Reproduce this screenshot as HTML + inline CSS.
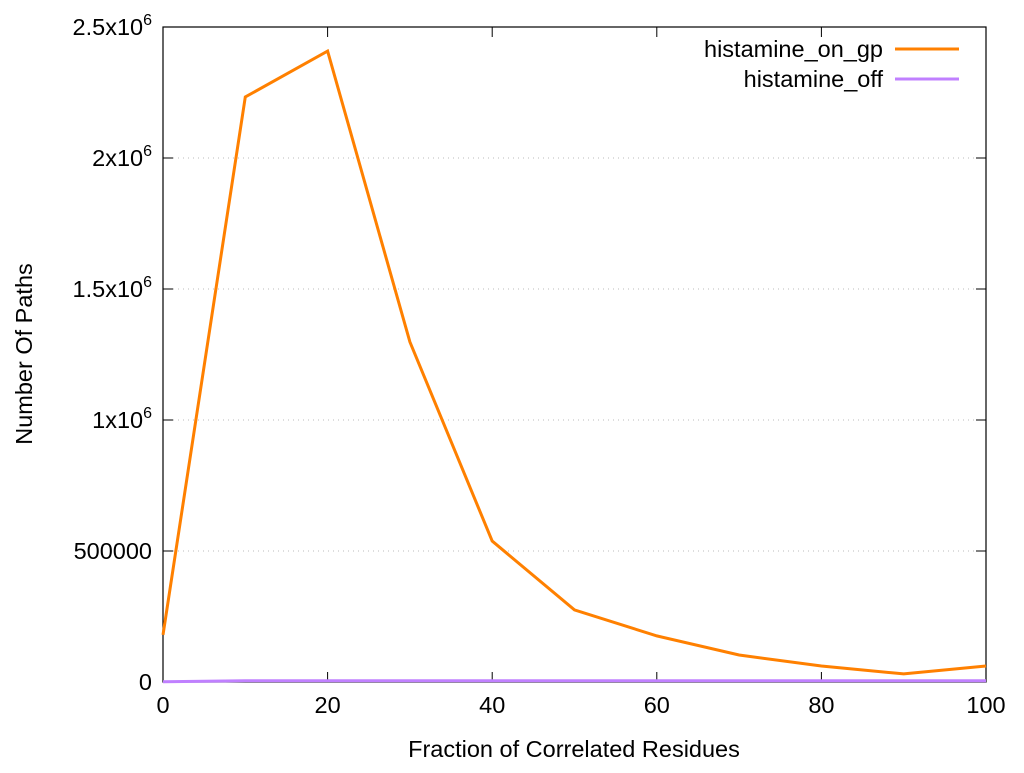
<!DOCTYPE html>
<html><head><meta charset="utf-8"><style>
body{margin:0;background:#fff;font-family:"Liberation Sans",sans-serif;}
svg text{font-family:"Liberation Sans",sans-serif;font-size:23.5px;fill:#000;}
</style></head><body>
<svg id="chart" width="1024" height="768" xmlns="http://www.w3.org/2000/svg">
<g id="grid"></g>
<g id="axes"></g>
<g id="series"></g>
<text x="574" y="757" text-anchor="middle">Fraction of Correlated Residues</text>
<text transform="translate(32,354) rotate(-90)" text-anchor="middle">Number Of Paths</text>
<g>
<text x="883" y="57" text-anchor="end">histamine_on_gp</text>
<line x1="895" y1="49" x2="959" y2="49" stroke="#ff8000" stroke-width="3"/>
<text x="883" y="87" text-anchor="end">histamine_off</text>
<line x1="895" y1="79" x2="959" y2="79" stroke="#c080ff" stroke-width="3"/>
</g>
</svg>
<script>
const xValues=[0,10,20,30,40,50,60,70,80,90,100];
const onValues=[180000,2233000,2408000,1298000,538000,275000,176000,103000,61000,31000,61000];
const offValues=[1000,5000,5000,5000,5000,5000,5000,5000,5000,5000,5000];
const xTicks=[0,20,40,60,80,100];
const yTicks=[0,500000,1000000,1500000,2000000,2500000];
const yTickLabels=["0","500000","1x10^6","1.5x10^6","2x10^6","2.5x10^6"];
const L=163,R=986,T=27,B=682;
const X=v=>L+(v-0)/(100-0)*(R-L);
const Y=v=>B-v/2500000*(B-T);
const NS="http://www.w3.org/2000/svg";
function mk(tag,attrs,parent){const e=document.createElementNS(NS,tag);for(const k in attrs)e.setAttribute(k,attrs[k]);parent.appendChild(e);return e;}
const grid=document.getElementById('grid'),axes=document.getElementById('axes'),series=document.getElementById('series');
yTicks.forEach((t,i)=>{
  const y=Y(t);
  if(t>0&&t<2500000){const g=mk('line',{x1:L,x2:R,y1:y,y2:y,stroke:'#bbb','stroke-width':1,'stroke-dasharray':'1,4'},grid);
  
  }
  const a=mk('line',{x1:L,x2:L+10,y1:y,y2:y,stroke:'#000'},axes);
  
  
  const b=mk('line',{x1:R-10,x2:R,y1:y,y2:y,stroke:'#000'},axes);
  
  
  const tx=mk('text',{x:L-11,y:y+8,'text-anchor':'end'},axes);
  
  
  const lab=yTickLabels[i];
  if(lab.includes('^')){const [m,e]=lab.split('^');tx.textContent=m;const s=mk('tspan',{dy:-10,'font-size':16},tx);s.textContent=e;}
  else tx.textContent=lab;
});
xTicks.forEach(t=>{
  const x=X(t);
  const a=mk('line',{x1:x,x2:x,y1:B,y2:B-10,stroke:'#000'},axes);
  
  
  const b=mk('line',{x1:x,x2:x,y1:T,y2:T+10,stroke:'#000'},axes);
  
  
  const tx=mk('text',{x:x,y:B+31,'text-anchor':'middle'},axes);
  
  
  tx.textContent=t;
});
const frame=mk('rect',{x:L,y:T,width:R-L,height:B-T,fill:'none',stroke:'#000','stroke-width':1.2},axes);


const pOn=mk('polyline',{points:xValues.map((x,i)=>X(x)+','+Y(onValues[i])).join(' '),fill:'none',stroke:'#ff8000','stroke-width':3,'stroke-linejoin':'miter'},series);


const pOff=mk('polyline',{points:xValues.map((x,i)=>X(x)+','+Y(offValues[i])).join(' '),fill:'none',stroke:'#c080ff','stroke-width':3},series);


</script>
</body></html>
